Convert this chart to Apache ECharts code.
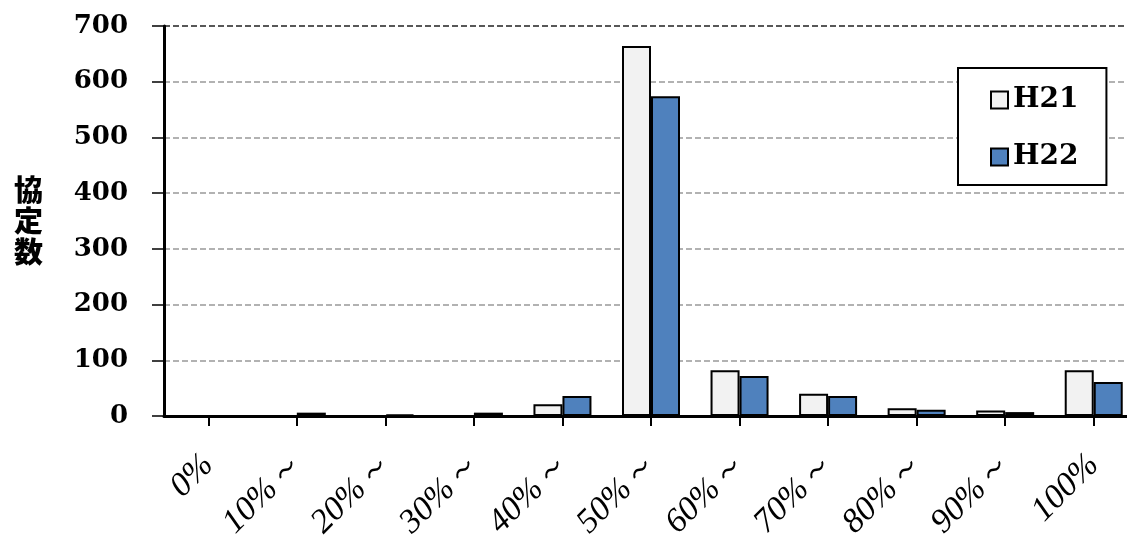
<!DOCTYPE html>
<html>
<head>
<meta charset="utf-8">
<script src="https://cdn.jsdelivr.net/npm/echarts@6/dist/echarts.min.js"></script>
<style>
  html, body { margin: 0; padding: 0; background: #fff; overflow: hidden; }
  #frame { width: 1127px; height: 536px; overflow: hidden; position: relative; }
  #chart { width: 1138px; height: 536px; position: absolute; left: 0; top: 0; }
</style>
</head>
<body>
<div id="frame"><div id="chart"></div></div>
<script>
// Rate bands (協定の割合) on the category axis
const categories = ['0%', '10%～', '20%～', '30%～', '40%～', '50%～', '60%～', '70%～', '80%～', '90%～', '100%'];
// Number of agreements per band
const seriesH21 = [0, 0, 0, 0, 21, 664, 82, 40, 14, 10, 82];
const seriesH22 = [0, 6, 3, 6, 36, 574, 72, 36, 11, 7, 61];
const yTicks = [0, 100, 200, 300, 400, 500, 600, 700];

const chart = echarts.init(document.getElementById('chart'));

const barBorder = { borderColor: '#000', borderWidth: 2 };

chart.setOption({
  animation: false,
  backgroundColor: '#fff',
  grid: { left: 164, top: 26, bottom: 120, right: 0, containLabel: false, outerBoundsMode: 'none' },
  graphic: [{
    type: 'text',
    left: 14,
    top: 174,
    style: {
      text: '協\n定\n数',
      font: '900 29px "Noto Sans CJK JP"',
      lineHeight: 31,
      fill: '#000'
    }
  }],
  legend: {
    orient: 'vertical',
    left: 958,
    top: 68,
    padding: [18, 28, 14, 32],
    itemGap: 29,
    itemWidth: 17,
    itemHeight: 17,
    backgroundColor: '#fff',
    borderColor: '#000',
    borderWidth: 2,
    icon: 'rect',
    textStyle: {
      fontFamily: 'DejaVu Serif',
      fontWeight: 'bold',
      fontSize: 28,
      color: '#000'
    },
    data: ['H21', 'H22']
  },
  xAxis: {
    type: 'category',
    data: categories,
    axisLine: { lineStyle: { color: '#000', width: 3 } },
    axisTick: { show: true, alignWithLabel: true, length: 10, lineStyle: { color: '#000', width: 2 } },
    axisLabel: {
      rotate: 45,
      margin: 44,
      interval: 0,
      fontFamily: 'Liberation Serif',
      fontStyle: 'italic',
      fontSize: 34,
      color: '#000'
    }
  },
  yAxis: {
    type: 'value',
    min: yTicks[0],
    max: yTicks[yTicks.length - 1],
    interval: 100,
    axisLine: { show: true, lineStyle: { color: '#000', width: 3 } },
    axisTick: { show: true, inside: false, length: 12, lineStyle: { color: '#000', width: 1.5 } },
    axisLabel: {
      margin: 36,
      fontFamily: 'DejaVu Serif',
      fontWeight: 'bold',
      fontSize: 26,
      color: '#000'
    },
    splitLine: {
      show: true,
      lineStyle: {
        color: ['#999', '#999', '#999', '#999', '#999', '#999', '#999', '#222'],
        type: [6, 3],
        width: 1.5
      }
    }
  },
  series: [
    {
      name: 'H21',
      type: 'bar',
      data: seriesH21,
      barWidth: 29,
      barGap: '0%',
      itemStyle: Object.assign({ color: '#f2f2f2' }, barBorder)
    },
    {
      name: 'H22',
      type: 'bar',
      data: seriesH22,
      barWidth: 29,
      barGap: '0%',
      itemStyle: Object.assign({ color: '#4f81bd' }, barBorder)
    }
  ]
});
</script>
</body>
</html>
